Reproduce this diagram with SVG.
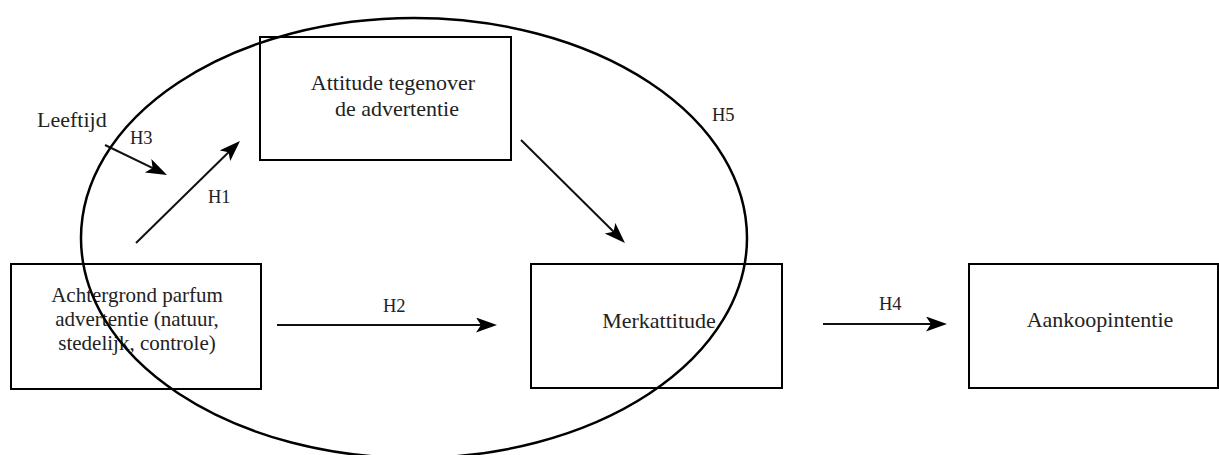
<svg xmlns="http://www.w3.org/2000/svg" width="1219" height="455" viewBox="0 0 1219 455">
<style>
.box{fill:none;stroke:#000;stroke-width:2}
.t{font-family:'Liberation Serif','Times New Roman','DejaVu Serif',serif;font-size:22px;fill:#222}
.s{font-size:21px}
.lbl{font-family:'Liberation Serif','Times New Roman','DejaVu Serif',serif;font-size:18.5px;fill:#222}
.c{fill:none;stroke:#111;stroke-width:2;marker-end:url(#ah)}
</style>
<defs>
<marker id="ah" markerUnits="userSpaceOnUse" markerWidth="22" markerHeight="16" refX="15" refY="7.5" orient="auto" viewBox="0 0 22 16">
<path d="M0,0 L21,7.5 L0,15 L5,7.5 z" fill="#000"/>
</marker>
</defs>
<rect width="1219" height="455" fill="#fff"/>
<g id="node-attitude">
<rect class="box" x="260" y="37" width="251" height="123"/>
<text class="t" x="393" y="90" text-anchor="middle">Attitude tegenover</text>
<text class="t" x="397" y="116" text-anchor="middle">de advertentie</text>
</g>
<g id="node-achtergrond">
<rect class="box" x="11" y="264" width="250" height="125"/>
<text class="t s" x="137" y="302" text-anchor="middle">Achtergrond parfum</text>
<text class="t s" x="137" y="326" text-anchor="middle">advertentie (natuur,</text>
<text class="t s" x="137" y="350" text-anchor="middle">stedelijk, controle)</text>
</g>
<g id="node-merkattitude">
<rect class="box" x="531" y="264" width="251" height="124"/>
<text class="t" x="659" y="328" text-anchor="middle">Merkattitude</text>
</g>
<g id="node-aankoopintentie">
<rect class="box" x="969" y="264" width="249" height="124"/>
<text class="t" x="1100" y="327" text-anchor="middle">Aankoopintentie</text>
</g>
<g id="node-leeftijd">
<text class="t" x="37" y="127">Leeftijd</text>
</g>
<g id="connectors">
<line class="c" x1="105" y1="145" x2="161.6" y2="172.4"/>
<line class="c" x1="136" y1="243" x2="235.7" y2="145.2"/>
<line class="c" x1="521" y1="140" x2="620.7" y2="238.8"/>
<line class="c" x1="277" y1="325" x2="491" y2="325"/>
<line class="c" x1="823" y1="324" x2="941" y2="324"/>
<text class="lbl" x="130" y="144">H3</text>
<text class="lbl" x="208" y="203">H1</text>
<text class="lbl" x="383" y="312">H2</text>
<text class="lbl" x="879" y="310">H4</text>
<text class="lbl" x="712" y="121">H5</text>
</g>
<ellipse cx="414" cy="238" rx="333" ry="220" fill="none" stroke="#000" stroke-width="2.5"/>
</svg>
